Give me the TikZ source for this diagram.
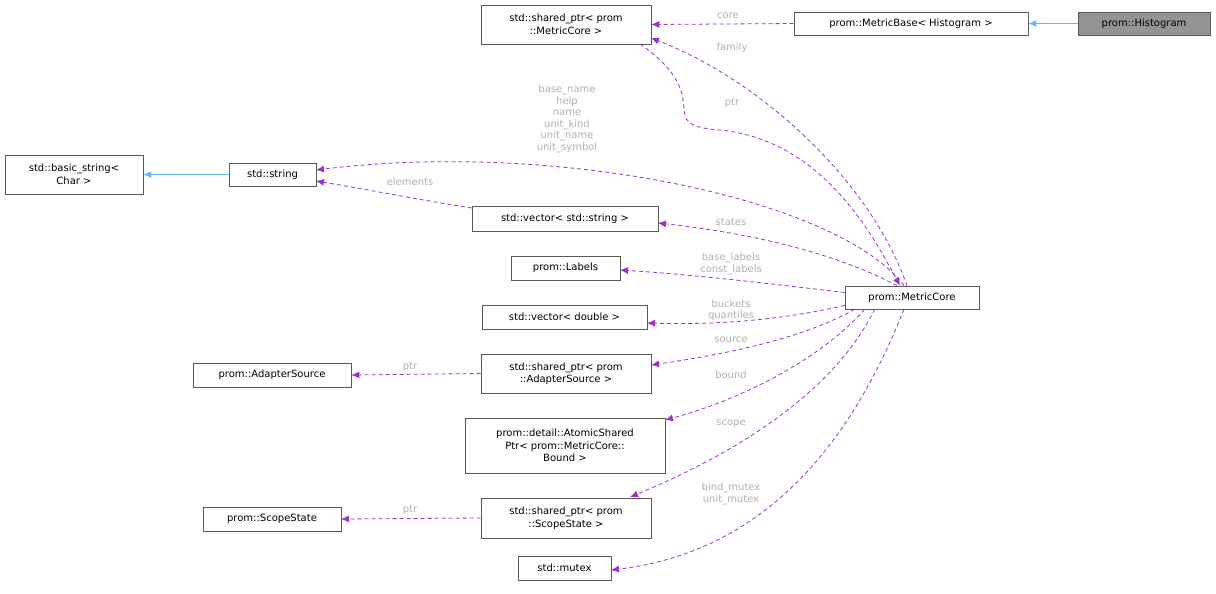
\documentclass[tikz,border=0pt]{standalone}
\usepackage{fontspec}
\setmainfont{DejaVu Sans}
\usetikzlibrary{arrows.meta}
\definecolor{pur}{HTML}{9A32CD}
\definecolor{blu}{HTML}{63B8FF}
\definecolor{lab}{HTML}{B0B0B0}
\begin{document}
\begin{tikzpicture}[x=1pt,y=-1pt,
 box/.style={draw=black!65,line width=0.6pt,inner sep=0pt,align=center,font=\fontsize{10}{12.5}\selectfont},
 inh/.style={draw=blu,line width=0.8pt,-{Latex[length=8pt,width=7pt,open,fill=blu]}},
 use/.style={draw=pur,line width=0.8pt,dash pattern=on 4pt off 3pt,-{Latex[length=8pt,width=7pt,fill=pur]}},
 lb/.style={text=lab,font=\fontsize{10}{11.5}\selectfont,align=center,inner sep=0pt}]
\useasboundingbox (0,0) rectangle (1216,594);
\newcommand\bx[6]{\node[box,minimum width=#4-#2,minimum height=#5-#3] (#1) at ({(#2+#4)/2},{(#3+#5)/2}) {#6};}
\bx{hist}{1078}{12}{1210}{35}{prom::Histogram}
\path (hist) node[draw=black!65,fill=black!42,minimum width=132pt,minimum height=23pt,inner sep=0pt,font=\fontsize{10}{12}\selectfont] {prom::Histogram};
\bx{mbase}{794}{12}{1028}{35}{prom::MetricBase< Histogram >}
\bx{spmc}{481}{5}{651}{44}{std::shared\_ptr< prom\\::MetricCore >}
\bx{bstr}{5}{155}{143}{194}{std::basic\_string<\\Char >}
\bx{str}{229}{163}{316}{186}{std::string}
\bx{vstr}{472}{206}{658}{231}{std::vector< std::string >}
\bx{lbl}{511}{256}{620}{280}{prom::Labels}
\bx{mc}{845}{286}{979}{309}{prom::MetricCore}
\bx{vdbl}{482}{305}{647}{329}{std::vector< double >}
\bx{as}{193}{363}{351}{387}{prom::AdapterSource}
\bx{spas}{481}{354}{651}{393}{std::shared\_ptr< prom\\::AdapterSource >}
\bx{atom}{465}{418}{665}{473}{prom::detail::AtomicShared\\Ptr< prom::MetricCore::\\Bound >}
\bx{ss}{203}{507}{341}{531}{prom::ScopeState}
\bx{spss}{481}{498}{651}{538}{std::shared\_ptr< prom\\::ScopeState >}
\bx{mtx}{518}{556}{611}{580}{std::mutex}
\draw[inh] (hist.west) -- (mbase.east);
\draw[inh] (str.west) -- (bstr.east);
\draw[use] (mbase.west) -- (spmc.east);
\node[lb] at (728,16) {core};
\draw[use] (mc.north) ++(-5,0) .. controls (870,180) and (760,80) .. (651,38);
\node[lb] at (732,48) {family};
\draw[use] (640,44) .. controls (720,100) and (650,125) .. (720,130) .. controls (820,140) and (870,230) .. ([xshift=-12pt]mc.north);
\node[lb] at (732,103) {ptr};
\draw[use] ([xshift=-8pt]mc.north) .. controls (840,200) and (560,140) .. (316,170);
\node[lb,font=\fontsize{10}{11.5}\selectfont] at (567,119) {base\_name\\help\\name\\unit\_kind\\unit\_name\\unit\_symbol};
\draw[use] (472,208) .. controls (420,200) and (370,190) .. (316,181);
\node[lb] at (410,182) {elements};
\draw[use] ([xshift=-15pt]mc.north) .. controls (830,250) and (740,232) .. (658,223);
\node[lb] at (731,222) {states};
\draw[use] (mc.west) ++(0,-5) .. controls (780,285) and (700,275) .. (620,270);
\node[lb] at (731,264) {base\_labels\\const\_labels};
\draw[use] (mc.west) ++(0,8) .. controls (780,320) and (720,325) .. (647,323);
\node[lb] at (731,310) {buckets\\quantiles};
\draw[use] ([xshift=10pt]mc.south west) .. controls (800,340) and (720,355) .. (651,365);
\node[lb] at (731,340) {source};
\draw[use] (spas.west) -- (as.east);
\node[lb] at (410,367) {ptr};
\draw[use] ([xshift=20pt]mc.south west) .. controls (820,360) and (740,400) .. (665,420);
\node[lb] at (731,375) {bound};
\draw[use] ([xshift=30pt]mc.south west) .. controls (830,400) and (720,460) .. (630,497);
\node[lb] at (731,424) {scope};
\draw[use] (spss.west) -- (341,519);
\node[lb] at (410,510) {ptr};
\draw[use] ([xshift=-8pt]mc.south) .. controls (860,420) and (780,550) .. (611,570);
\node[lb] at (731,494) {bind\_mutex\\unit\_mutex};
\end{tikzpicture}
\end{document}
